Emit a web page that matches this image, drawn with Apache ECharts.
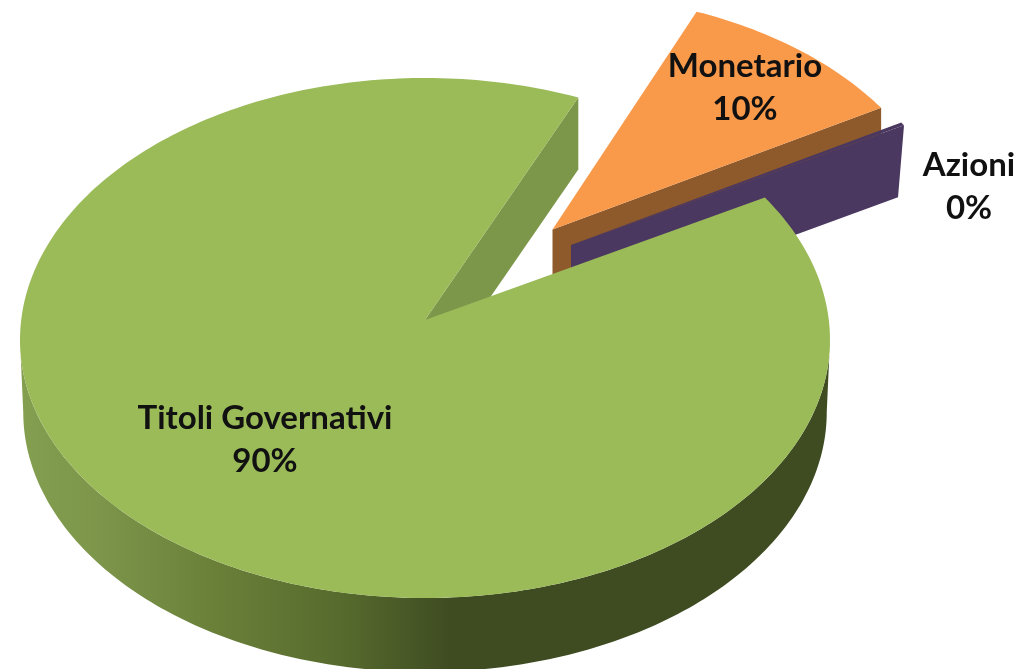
<!DOCTYPE html>
<html>
<head>
<meta charset="utf-8">
<style>
  html, body { margin: 0; padding: 0; background: #fff; }
  #chart { width: 1016px; height: 669px; }
</style>
<script src="https://cdn.jsdelivr.net/npm/echarts@6/dist/echarts.min.js"></script>
</head>
<body>
<div id="chart"></div>
<script>
// draw order, back to front
const names = ['Monetario', 'Azioni', 'Titoli Governativi'];
const values = [9.7, 0.2, 90.1];

// fake 3D look: a flattened pie with a wall under it
const center = [425, 340];
const radiusX = 405;
const radiusY = 262;
const radiusYFront = 258; // the near half looks a bit flatter
const apexLift = 20;
const depth = 72;
const startAngle = -68.6;

const sliceStyles = [
  { top: '#f9994a', wall: '#8f5a2b', dx: 127.5, dy: -90.5, scale: 0.975, lean: 0, extend: 0, label: [745, 88] },
  { top: '#4b3860', wall: '#4b3860', dx: 146, dy: -75, scale: 0.98, lean: -6, extend: 0, label: [969, 187] },
  { top: '#9bbb59', wall: '#7c974a', dx: 0, dy: 0, scale: 1, lean: 0, extend: 0.84, label: [265, 440] },
];

const total = values.reduce((a, b) => a + b, 0);

function point(s, deg, extraY, flat) {
  const t = deg * Math.PI / 180;
  const sin = Math.sin(t);
  const ry = flat && sin > 0 ? radiusYFront : radiusY;
  return [
    center[0] + s.dx + radiusX * s.scale * Math.cos(t),
    center[1] + s.dy + ry * s.scale * sin + (extraY || 0),
  ];
}

function arc(s, from, to, extraY, flat) {
  const pts = [];
  const steps = Math.max(2, Math.ceil(Math.abs(to - from)));
  for (let i = 0; i <= steps; i++) {
    pts.push(point(s, from + (to - from) * i / steps, extraY, flat));
  }
  return pts;
}

function renderSlice(params, api) {
  const i = params.dataIndex;
  const s = sliceStyles[i];
  let from = startAngle;
  for (let k = 0; k < i; k++) {
    from += values[k] / total * 360;
  }
  const to = from + api.value(0) / total * 360 + s.extend;
  const apex = [center[0] + s.dx, center[1] + s.dy - apexLift];
  const children = [];

  if (i < 2) {
    // exploded slices show the cut face along their lower radius
    const outer = point(s, to);
    children.push({
      type: 'polygon',
      shape: { points: [apex, outer, [outer[0] + s.lean, outer[1] + depth], [apex[0], apex[1] + depth]] },
      style: { fill: s.wall },
    });
  } else {
    // big slice: outer wall, then the cut face seen through the gap
    const wall = arc(s, 0, 180, 0, true).concat(
      arc({ dx: 0, dy: 0, scale: 0.992 }, 180, 0, depth)
    );
    children.push({
      type: 'polygon',
      shape: { points: wall },
      style: {
        fill: {
          type: 'linear', x: 0, y: 0, x2: 1, y2: 0,
          colorStops: [
            { offset: 0, color: '#849f50' },
            { offset: 0.1, color: '#7c954a' },
            { offset: 0.24, color: '#6a8039' },
            { offset: 0.4, color: '#566a2d' },
            { offset: 0.53, color: '#3f4c22' },
            { offset: 1, color: '#3f4c22' },
          ],
        },
      },
    });
    const corner = point(s, to);
    children.push({
      type: 'polygon',
      shape: { points: [apex, corner, [corner[0], corner[1] + depth], [apex[0], apex[1] + depth]] },
      style: { fill: s.wall },
    });
  }

  children.push({
    type: 'polygon',
    shape: { points: [apex].concat(arc(s, from, to, 0, true)) },
    style: { fill: s.top },
  });

  return { type: 'group', children: children };
}

function renderLabel(params, api) {
  const i = params.dataIndex;
  return {
    type: 'text',
    z2: 10,
    style: {
      text: names[i] + '\n' + Math.round(api.value(0) / total * 100) + '%',
      x: sliceStyles[i].label[0],
      y: sliceStyles[i].label[1],
      align: 'center',
      verticalAlign: 'middle',
      lineHeight: 43,
      font: 'bold 33px Lato, "Open Sans", sans-serif',
      fill: '#111',
    },
  };
}

const chartData = names.map((name, i) => ({ name: name, value: values[i] }));

const myChart = echarts.init(document.getElementById('chart'));
myChart.setOption({
  animation: false,
  backgroundColor: '#fff',
  series: [
    { type: 'custom', coordinateSystem: 'none', z: 1, silent: true, renderItem: renderSlice, data: chartData },
    { type: 'custom', coordinateSystem: 'none', z: 2, silent: true, renderItem: renderLabel, data: chartData },
  ],
});
</script>
</body>
</html>
